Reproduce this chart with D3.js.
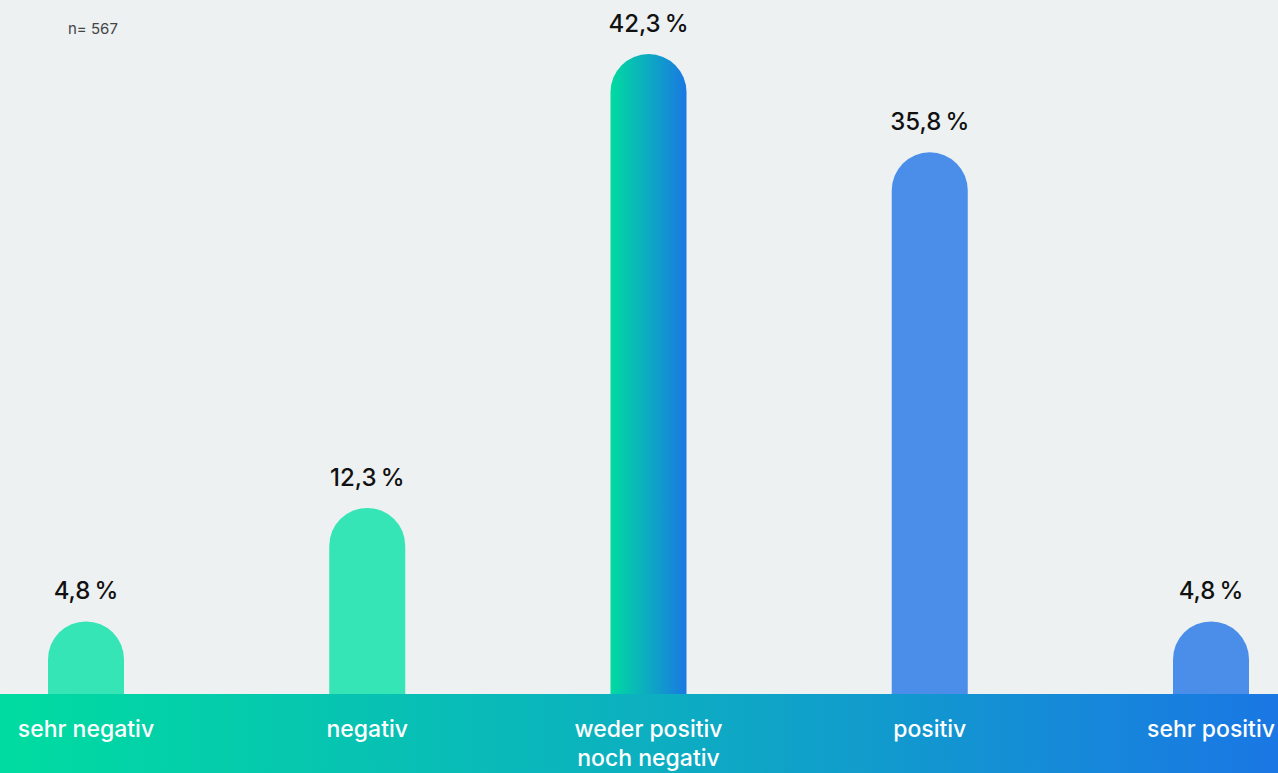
<!DOCTYPE html>
<html>
<head>
    <meta charset="utf-8">
    <script src="https://d3js.org/d3.v7.min.js"></script>
    <style>
        body { margin: 0; background: #edf1f2; overflow: hidden; }
        text { font-family: "Inter", "Lato", sans-serif; }
    </style>
</head>
<body>
    <div id="chart"></div>
    <script>
        // data
        var categories = ["sehr negativ", "negativ", "weder positiv\nnoch negativ", "positiv", "sehr positiv"];
        var values = [4.8, 12.3, 42.3, 35.8, 4.8];
        var barFills = ["#36e5b5", "#36e5b5", "url(#midGrad)", "#4a8eea", "#4a8eea"];
        var sampleNote = "n= 567";

        const width = 1278, height = 773;
        const baseY = 694, barW = 76;

        var svg = d3.select("#chart")
            .append("svg")
            .attr("width", width)
            .attr("height", height);

        var defs = svg.append("defs");
        var g1 = defs.append("linearGradient").attr("id", "midGrad")
            .attr("x1", "0%").attr("x2", "100%").attr("y1", "0%").attr("y2", "0%");
        g1.append("stop").attr("offset", "0%").attr("stop-color", "#00dba0");
        g1.append("stop").attr("offset", "100%").attr("stop-color", "#1a78e3");

        var g2 = defs.append("linearGradient").attr("id", "bandGrad")
            .attr("x1", "0%").attr("x2", "100%").attr("y1", "0%").attr("y2", "0%");
        g2.append("stop").attr("offset", "0%").attr("stop-color", "#00dca0");
        g2.append("stop").attr("offset", "50%").attr("stop-color", "#0cb0c0");
        g2.append("stop").attr("offset", "100%").attr("stop-color", "#1a77e4");

        svg.append("rect").attr("width", width).attr("height", height).attr("fill", "#edf1f2");

        // scales
        var x = d3.scalePoint()
            .domain(categories)
            .range([86, 1211]);

        var y = d3.scaleLinear()
            .domain([0, 42.3])
            .range([baseY, 54]);

        // rounded-top bars
        function barPath(cx, top) {
            var r = barW / 2;
            var left = cx - r, right = cx + r;
            return "M" + left + "," + baseY +
                "L" + left + "," + (top + r) +
                "A" + r + "," + r + " 0 0 1 " + right + "," + (top + r) +
                "L" + right + "," + baseY + "Z";
        }

        svg.append("g")
            .selectAll("path")
            .data(values)
            .enter()
            .append("path")
            .attr("d", function (d, i) { return barPath(x(categories[i]), y(d)); })
            .attr("fill", function (d, i) { return barFills[i]; });

        // value labels
        svg.append("g")
            .selectAll("text")
            .data(values)
            .enter()
            .append("text")
            .attr("x", function (d, i) { return x(categories[i]); })
            .attr("y", function (d) { return y(d) - 22; })
            .attr("text-anchor", "middle")
            .style("font-size", "24px")
            .style("font-weight", 500)
            .attr("fill", "#111")
            .text(function (d) { return d.toFixed(1).replace(".", ",") + "\u2009%"; });

        // bottom band
        svg.append("rect")
            .attr("x", 0).attr("y", baseY)
            .attr("width", width).attr("height", height - baseY)
            .attr("fill", "url(#bandGrad)");

        // category labels
        svg.append("g")
            .selectAll("text")
            .data(categories)
            .enter()
            .append("text")
            .attr("x", function (d) { return x(d); })
            .attr("y", 737)
            .attr("text-anchor", "middle")
            .attr("fill", "#fff")
            .style("font-size", "23px")
            .style("font-weight", 500)
            .each(function (d) {
                var lines = d.split("\n");
                var t = d3.select(this);
                lines.forEach(function (line, k) {
                    t.append("tspan")
                        .attr("x", x(d))
                        .attr("dy", k === 0 ? 0 : 29)
                        .text(line);
                });
            });

        // sample size note
        svg.append("text")
            .attr("x", 68).attr("y", 34)
            .attr("fill", "#444")
            .style("font-size", "15px")
            .text(sampleNote);
    </script>
</body>
</html>
